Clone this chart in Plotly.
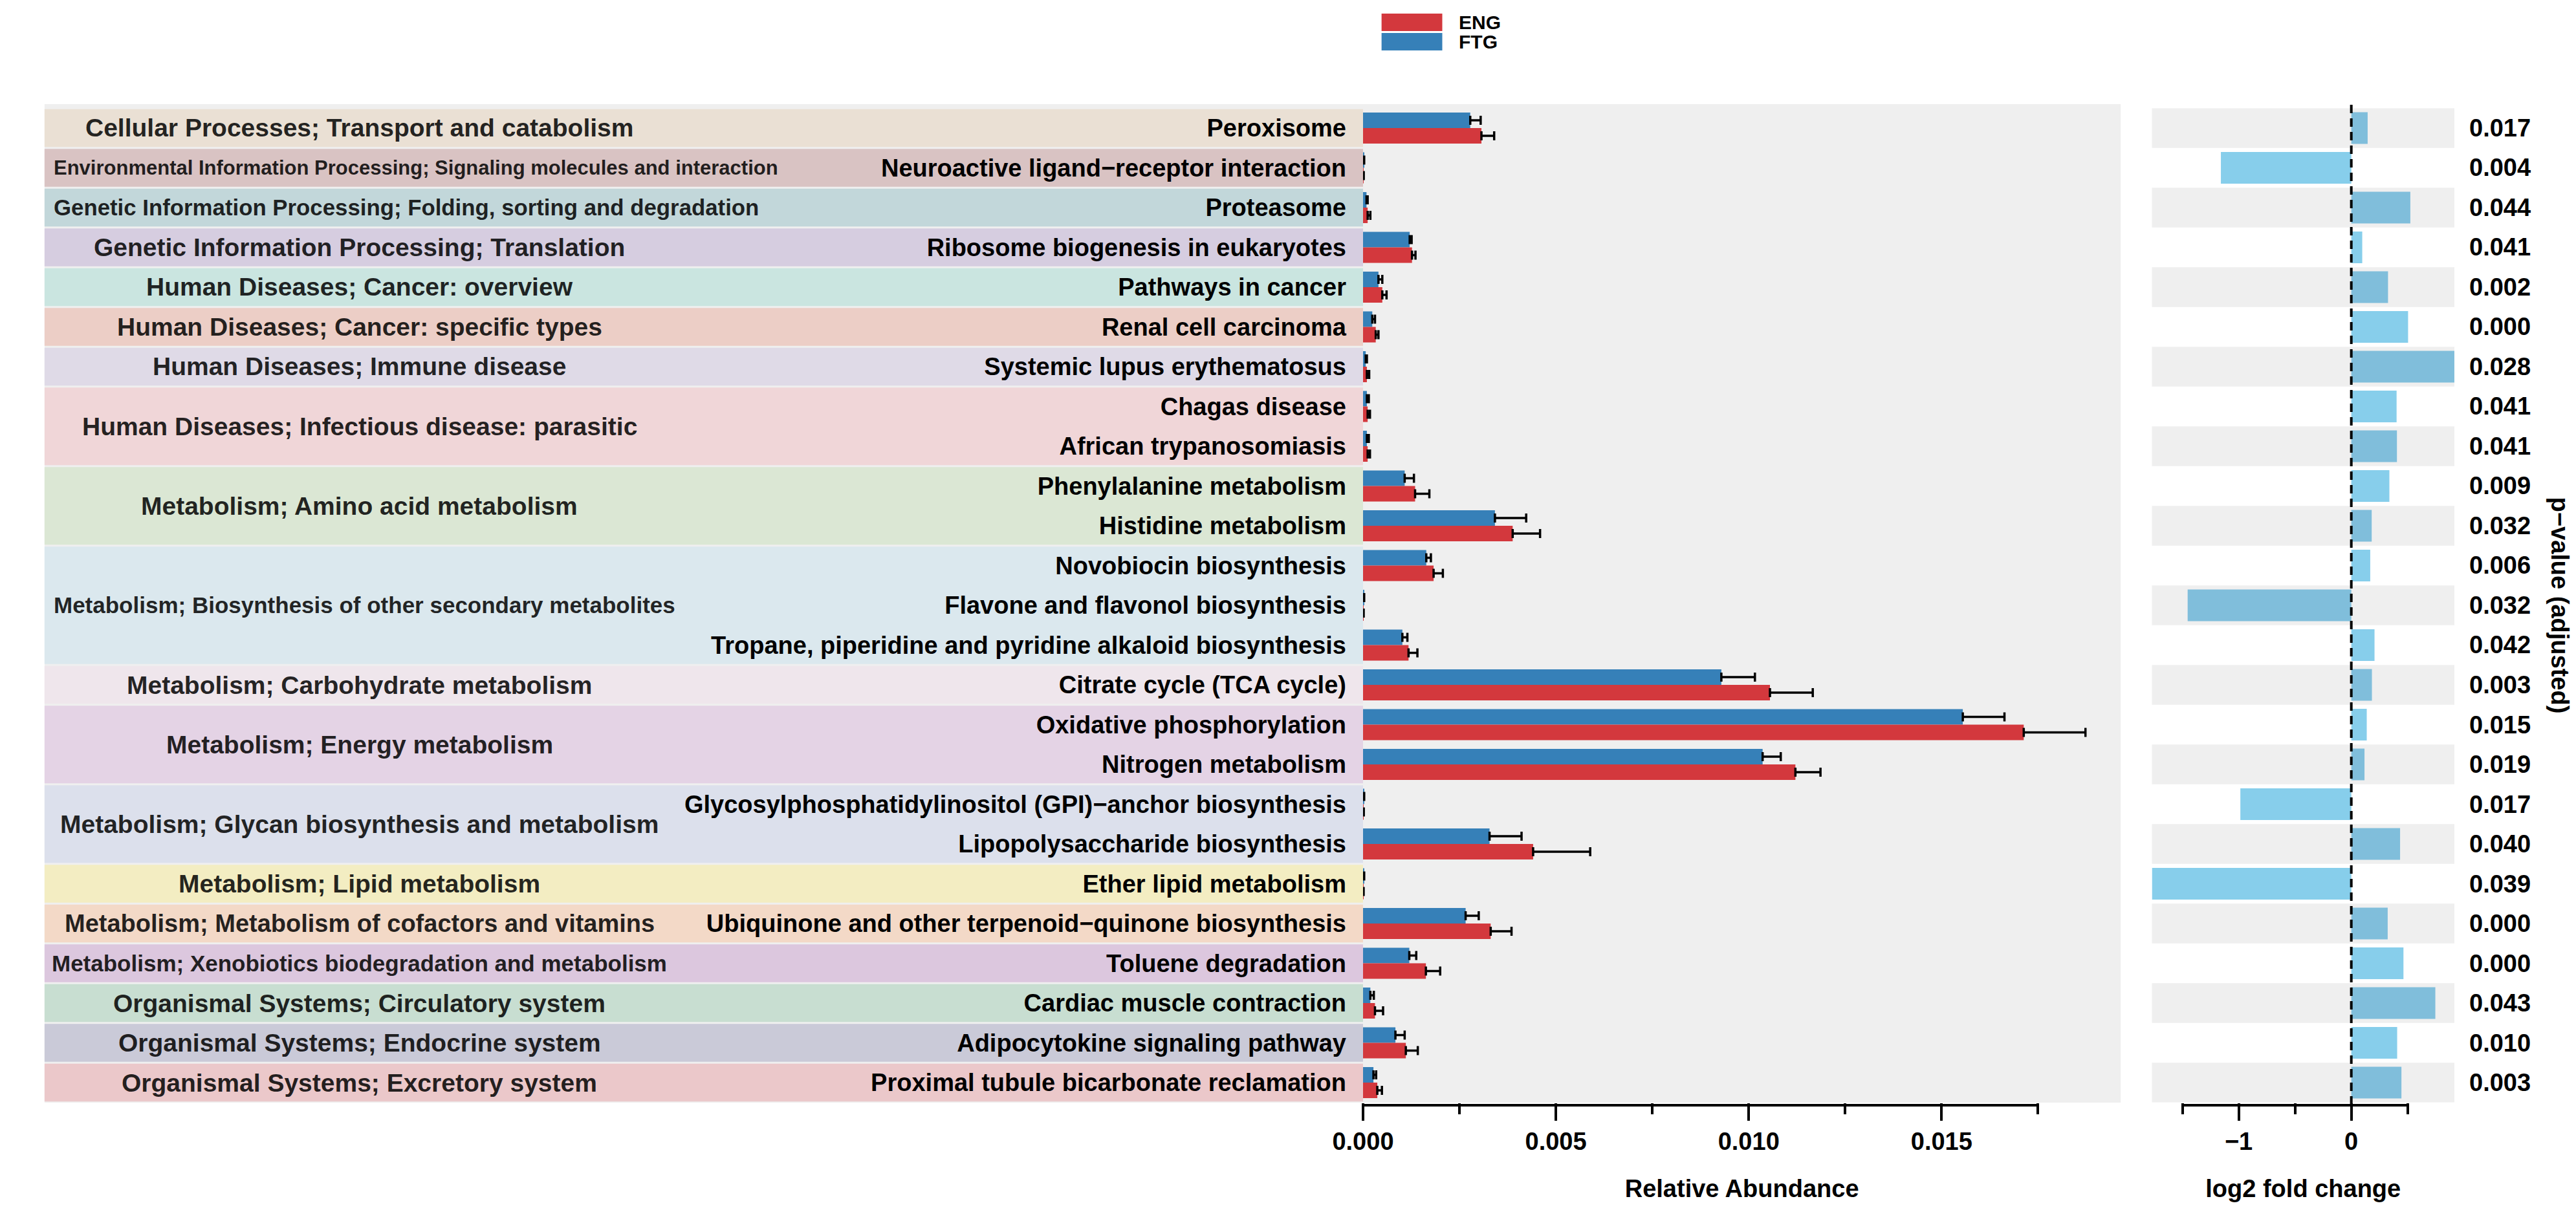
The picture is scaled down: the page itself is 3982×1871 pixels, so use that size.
import plotly.graph_objects as go

# ---------------- data ----------------
pathways = [
    "Peroxisome",
    "Neuroactive ligand\u2212receptor interaction",
    "Proteasome",
    "Ribosome biogenesis in eukaryotes",
    "Pathways in cancer",
    "Renal cell carcinoma",
    "Systemic lupus erythematosus",
    "Chagas disease",
    "African trypanosomiasis",
    "Phenylalanine metabolism",
    "Histidine metabolism",
    "Novobiocin biosynthesis",
    "Flavone and flavonol biosynthesis",
    "Tropane, piperidine and pyridine alkaloid biosynthesis",
    "Citrate cycle (TCA cycle)",
    "Oxidative phosphorylation",
    "Nitrogen metabolism",
    "Glycosylphosphatidylinositol (GPI)\u2212anchor biosynthesis",
    "Lipopolysaccharide biosynthesis",
    "Ether lipid metabolism",
    "Ubiquinone and other terpenoid\u2212quinone biosynthesis",
    "Toluene degradation",
    "Cardiac muscle contraction",
    "Adipocytokine signaling pathway",
    "Proximal tubule bicarbonate reclamation",
]

row_category = [
    "Cellular Processes; Transport and catabolism",
    "Environmental Information Processing; Signaling molecules and interaction",
    "Genetic Information Processing; Folding, sorting and degradation",
    "Genetic Information Processing; Translation",
    "Human Diseases; Cancer: overview",
    "Human Diseases; Cancer: specific types",
    "Human Diseases; Immune disease",
    "Human Diseases; Infectious disease: parasitic",
    "Human Diseases; Infectious disease: parasitic",
    "Metabolism; Amino acid metabolism",
    "Metabolism; Amino acid metabolism",
    "Metabolism; Biosynthesis of other secondary metabolites",
    "Metabolism; Biosynthesis of other secondary metabolites",
    "Metabolism; Biosynthesis of other secondary metabolites",
    "Metabolism; Carbohydrate metabolism",
    "Metabolism; Energy metabolism",
    "Metabolism; Energy metabolism",
    "Metabolism; Glycan biosynthesis and metabolism",
    "Metabolism; Glycan biosynthesis and metabolism",
    "Metabolism; Lipid metabolism",
    "Metabolism; Metabolism of cofactors and vitamins",
    "Metabolism; Xenobiotics biodegradation and metabolism",
    "Organismal Systems; Circulatory system",
    "Organismal Systems; Endocrine system",
    "Organismal Systems; Excretory system",
]

groups = ["ENG", "FTG"]

eng_mean = [0.00307, 0.000009, 0.00012, 0.00127, 0.00050, 0.00033, 0.00010, 0.00012, 0.00012,
            0.00135, 0.00388, 0.00183, 0.000007, 0.00118, 0.01055, 0.01713, 0.01121,
            0.00001, 0.00441, 0.000006, 0.00331, 0.00163, 0.00031, 0.00111, 0.00037]
eng_sd = [0.00033, 0.00001, 0.00007, 0.00009, 0.00011, 0.00007, 0.00006, 0.00006, 0.00006,
          0.00037, 0.00071, 0.00024, 0.00001, 0.00023, 0.00111, 0.00160, 0.00065,
          0.00001, 0.00148, 0.00001, 0.00054, 0.00037, 0.00021, 0.00031, 0.00012]
ftg_mean = [0.00278, 0.00002, 0.00009, 0.00121, 0.00040, 0.00024, 0.00007, 0.00010, 0.00010,
            0.00108, 0.00342, 0.00164, 0.00002, 0.00102, 0.00929, 0.01555, 0.01036,
            0.00002, 0.00328, 0.00002, 0.00266, 0.00120, 0.00019, 0.00084, 0.00027]
ftg_sd = [0.00027, 0.00001, 0.00003, 0.00005, 0.00010, 0.00007, 0.00003, 0.00005, 0.00005,
          0.00024, 0.00081, 0.00012, 0.00001, 0.00013, 0.00087, 0.00108, 0.00047,
          0.00001, 0.00083, 0.00001, 0.00034, 0.00018, 0.00009, 0.00024, 0.00007]

log2fc = [0.145, -1.158, 0.524, 0.097, 0.326, 0.504, 0.915, 0.402, 0.405, 0.338, 0.181,
          0.168, -1.453, 0.206, 0.183, 0.137, 0.117, -0.985, 0.433, -1.770, 0.323,
          0.463, 0.746, 0.407, 0.445]

p_adjusted = ["0.017", "0.004", "0.044", "0.041", "0.002", "0.000", "0.028", "0.041", "0.041",
              "0.009", "0.032", "0.006", "0.032", "0.042", "0.003", "0.015", "0.019", "0.017",
              "0.040", "0.039", "0.000", "0.000", "0.043", "0.010", "0.003"]

abundance_ticks = [0.0, 0.005, 0.010, 0.015]
lfc_ticks = [-1, 0]

# ---------------- styling ----------------
W, H = 3982, 1871
FONT = "Liberation Sans, Arial, Helvetica, sans-serif"
RED = "#D3383D"
BLUE = "#3680B8"
PANEL = "#EFEFEF"

category_style = {
    "Cellular Processes; Transport and catabolism": ("#EAE0D4", 39, "c"),
    "Environmental Information Processing; Signaling molecules and interaction": ("#D9C3C3", 31, "l"),
    "Genetic Information Processing; Folding, sorting and degradation": ("#C2D7DA", 34.8, "l"),
    "Genetic Information Processing; Translation": ("#D6CDE0", 39, "c"),
    "Human Diseases; Cancer: overview": ("#CAE5E0", 39, "c"),
    "Human Diseases; Cancer: specific types": ("#ECCEC6", 39, "c"),
    "Human Diseases; Immune disease": ("#DFDAE7", 39, "c"),
    "Human Diseases; Infectious disease: parasitic": ("#F0D6D8", 39, "c"),
    "Metabolism; Amino acid metabolism": ("#DBE7D4", 39, "c"),
    "Metabolism; Biosynthesis of other secondary metabolites": ("#DBE8EE", 35, "l"),
    "Metabolism; Carbohydrate metabolism": ("#EFE6EC", 39, "c"),
    "Metabolism; Energy metabolism": ("#E4D3E5", 39, "c"),
    "Metabolism; Glycan biosynthesis and metabolism": ("#DCE0EC", 39, "c"),
    "Metabolism; Lipid metabolism": ("#F3EDC2", 39, "c"),
    "Metabolism; Metabolism of cofactors and vitamins": ("#F3D9C7", 38, "c"),
    "Metabolism; Xenobiotics biodegradation and metabolism": ("#DCC7DE", 35, "c"),
    "Organismal Systems; Circulatory system": ("#C8DED1", 39, "c"),
    "Organismal Systems; Endocrine system": ("#CACAD8", 39, "c"),
    "Organismal Systems; Excretory system": ("#EBC8CA", 39, "c"),
}

def px_x(p):
    return p / W

def px_y(p):
    return 1 - p / H

n = len(pathways)
row_top_px, row_bot_px = 159.25, 1696.75
y_dom = [px_y(row_bot_px), px_y(row_top_px)]
x1_dom = [px_x(2076), px_x(3261.6)]
x2_dom = [px_x(3310.4), px_x(3783.6)]

fig = go.Figure()

# grouped abundance bars: FTG drawn first -> upper position
fig.add_trace(go.Bar(
    name=groups[1], y=pathways, x=ftg_mean, orientation="h",
    marker=dict(color=BLUE, line=dict(width=0)),
    error_x=dict(type="data", symmetric=False, array=ftg_sd, arrayminus=[0] * n,
                 color="black", thickness=3.5, width=7),
    xaxis="x", yaxis="y", showlegend=False,
))
fig.add_trace(go.Bar(
    name=groups[0], y=pathways, x=eng_mean, orientation="h",
    marker=dict(color=RED, line=dict(width=0)),
    error_x=dict(type="data", symmetric=False, array=eng_sd, arrayminus=[0] * n,
                 color="black", thickness=3.5, width=7),
    xaxis="x", yaxis="y", showlegend=False,
))

# log2 fold change bars
lfc_colors = ["#80BEDB" if i % 2 == 0 else "#87CEEB" for i in range(n)]
fig.add_trace(go.Bar(
    name="log2 fold change", y=pathways, x=log2fc, orientation="h", width=0.8,
    marker=dict(color=lfc_colors, line=dict(width=0)),
    xaxis="x2", yaxis="y2", showlegend=False,
))

shapes = []
# panel background behind category bands and abundance bars
shapes.append(dict(type="rect", xref="paper", yref="paper", x0=px_x(13), x1=px_x(3261.6),
                   y0=px_y(1697), y1=px_y(153), fillcolor=PANEL, line=dict(width=0), layer="below"))

# category bands
inset = 0.025
start = 0
annotations = []
while start < n:
    end = start
    while end + 1 < n and row_category[end + 1] == row_category[start]:
        end += 1
    cat = row_category[start]
    col, fsize, anchor = category_style[cat]
    shapes.append(dict(type="rect", xref="paper", yref="y", x0=px_x(13), x1=x1_dom[0],
                       y0=start - 0.5 + inset, y1=end + 0.5 - inset,
                       fillcolor=col, line=dict(width=0), layer="below"))
    if anchor == "c":
        ax, xa = px_x(506), "center"
    else:
        ax, xa = px_x(25), "left"
    annotations.append(dict(xref="paper", yref="y", x=ax, y=(start + end) / 2, text=cat,
                            showarrow=False, xanchor=xa, yanchor="middle",
                            font=dict(family=FONT, size=fsize, color="rgba(0,0,0,0.86)", weight="bold")))
    start = end + 1

# alternating stripes in log2 fold change panel
for i in range(0, n, 2):
    shapes.append(dict(type="rect", xref="x2 domain", yref="y2", x0=0, x1=1,
                       y0=i - 0.5, y1=i + 0.5, fillcolor=PANEL, line=dict(width=0), layer="below"))

# dashed zero line
shapes.append(dict(type="line", xref="x2", yref="paper", x0=0, x1=0,
                   y0=px_y(1700), y1=px_y(154), line=dict(color="black", width=4, dash="13px,8px")))

# capped axis lines
shapes.append(dict(type="line", xref="x", yref="paper", x0=0, x1=0.0175,
                   y0=px_y(1701), y1=px_y(1701), line=dict(color="black", width=4)))
shapes.append(dict(type="line", xref="x2", yref="paper", x0=-1.5, x1=0.5,
                   y0=px_y(1701), y1=px_y(1701), line=dict(color="black", width=4)))

# p-values
for i, p in enumerate(p_adjusted):
    annotations.append(dict(xref="paper", yref="y2", x=px_x(3905), y=i, text=p, showarrow=False,
                            xanchor="right", yanchor="middle",
                            font=dict(family=FONT, size=38, color="black", weight="bold")))
annotations.append(dict(xref="paper", yref="paper", x=px_x(3949), y=(y_dom[0] + y_dom[1]) / 2,
                        text="p\u2212value (adjusted)", textangle=90, showarrow=False,
                        xanchor="center", yanchor="middle",
                        font=dict(family=FONT, size=38, color="black", weight="bold")))

# legend (manual, wide keys)
leg_colors = [RED, BLUE]
leg_rows = [(13, 40), (43, 70)]
for g, c, (t, b) in zip(groups, leg_colors, leg_rows):
    shapes.append(dict(type="rect", xref="paper", yref="paper", x0=px_x(2105), x1=px_x(2200),
                       y0=px_y(b), y1=px_y(t), fillcolor=c, line=dict(width=0)))
    annotations.append(dict(xref="paper", yref="paper", x=px_x(2224), y=px_y((t + b) / 2), text=g,
                            showarrow=False, xanchor="left", yanchor="middle",
                            font=dict(family=FONT, size=30, color="black", weight="bold")))

tick_font = dict(family=FONT, size=38, color="black", weight="bold")
title_font = dict(family=FONT, size=38, color="black", weight="bold")

fig.update_layout(
    width=W, height=H,
    margin=dict(l=0, r=0, t=0, b=0),
    paper_bgcolor="white", plot_bgcolor="rgba(0,0,0,0)",
    barmode="group", bargap=0.22, bargroupgap=0,
    shapes=shapes, annotations=annotations,
    xaxis=dict(domain=x1_dom, anchor="y", range=[0, 0.019645], showgrid=False, zeroline=False,
               showline=False, tickmode="array", tickvals=abundance_ticks,
               ticktext=[f"{v:.3f}" for v in abundance_ticks],
               ticks="outside", ticklen=27, tickwidth=4, tickcolor="black", tickfont=tick_font,
               minor=dict(dtick=0.0025, tick0=0, ticks="outside", ticklen=17, tickwidth=4,
                          tickcolor="black", showgrid=False),
               title=dict(text="Relative Abundance", font=title_font, standoff=39)),
    yaxis=dict(domain=y_dom, anchor="x", type="category", categoryorder="array",
               categoryarray=pathways, range=[n - 0.5, -0.5], showgrid=False, zeroline=False,
               showline=False, ticks="", tickfont=tick_font, ticklabelstandoff=25),
    xaxis2=dict(domain=x2_dom, anchor="y2", range=[min(log2fc), max(log2fc)], showgrid=False,
                zeroline=False, showline=False, tickmode="array", tickvals=lfc_ticks,
                ticks="outside", ticklen=27, tickwidth=4, tickcolor="black", tickfont=tick_font,
                minor=dict(dtick=0.5, tick0=0, ticks="outside", ticklen=17, tickwidth=4,
                           tickcolor="black", showgrid=False),
                title=dict(text="log2 fold change", font=title_font, standoff=39)),
    yaxis2=dict(domain=y_dom, anchor="x2", type="category", categoryorder="array",
                categoryarray=pathways, range=[n - 0.5, -0.5], showgrid=False, zeroline=False,
                showline=False, showticklabels=False, ticks=""),
)

fig.write_html("out.html")
